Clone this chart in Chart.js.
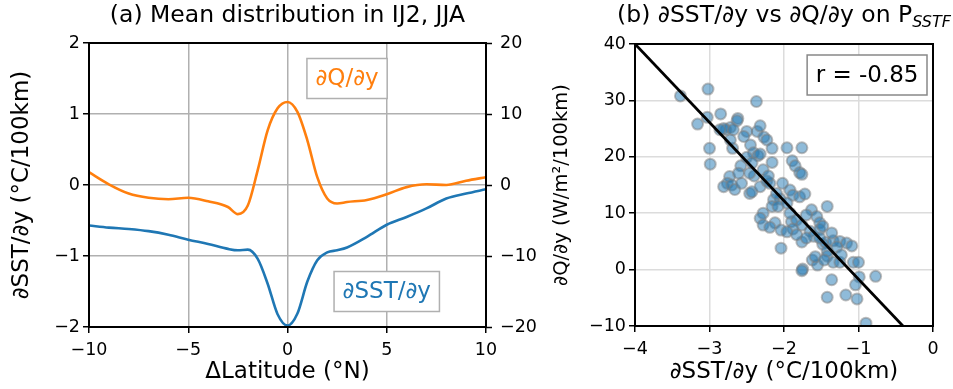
<!DOCTYPE html>
<html>
<head>
<meta charset="utf-8">
<script src="https://cdn.jsdelivr.net/npm/chart.js@4.4.1/dist/chart.umd.min.js"></script>
<style>
  body { margin: 0; background: #fff; width: 953px; height: 389px; overflow: hidden; position: relative; }
  canvas { position: absolute; top: 0; }
  #lineChart { left: 0; }
  #scatterChart { left: 545px; }
</style>
</head>
<body>
<canvas id="lineChart" width="545" height="389"></canvas>
<canvas id="scatterChart" width="408" height="389"></canvas>
<script>
// Panel (a): mean meridional gradients against latitude offset
const latitude = [-10, -9, -8, -7, -6, -5, -4, -3, -2.5, -2, -1.5, -1, -0.5, 0, 0.5, 1, 1.5, 2, 2.5, 3, 4, 5, 6, 7, 8, 9, 10]
const sstGradient = [-0.57, -0.60, -0.62, -0.65, -0.70, -0.77, -0.83, -0.90, -0.92, -0.91, -1.04, -1.39, -1.82, -1.98, -1.81, -1.36, -1.06, -0.95, -0.92, -0.88, -0.73, -0.56, -0.45, -0.33, -0.19, -0.12, -0.06]
const qGradient = [1.8, 0.1, -1.2, -1.8, -2.0, -1.8, -2.3, -3.1, -4.1, -2.9, 2.1, 7.7, 10.8, 11.7, 10.3, 6.3, 1.1, -1.9, -2.6, -2.4, -2.1, -1.3, -0.3, 0.1, 0.0, 0.6, 1.1]

// Panel (b): gradient pairs on the front
const scatterSst = [-3.39, -3.02, -2.37, -3.16, -3.03, -2.85, -3.00, -2.99, -2.62, -2.63, -2.72, -2.78, -2.81, -2.68, -2.50, -2.36, -2.32, -2.27, -2.23, -2.45, -2.69, -2.41, -2.35, -2.32, -2.16, -2.16, -2.58, -2.40, -2.28, -2.50, -2.73, -2.76, -2.81, -2.70, -2.66, -2.57, -2.46, -2.43, -2.32, -2.23, -2.19, -2.02, -1.96, -1.76, -1.89, -1.85, -1.79, -1.76, -1.92, -1.88, -1.79, -1.72, -2.05, -2.14, -2.16, -2.08, -2.28, -2.32, -2.28, -2.12, -2.19, -2.04, -2.04, -1.90, -1.92, -1.83, -1.76, -1.88, -1.96, -1.76, -1.63, -1.42, -1.56, -1.52, -1.65, -1.60, -1.48, -1.44, -1.34, -1.25, -1.16, -1.09, -1.29, -1.42, -1.42, -1.34, -1.25, -1.07, -1.00, -1.62, -1.55, -1.75, -1.76, -1.36, -0.99, -1.04, -0.77, -1.42, -1.17, -1.02, -0.90, -2.10, -1.96, -1.70, -1.52, -1.83, -1.70, -1.48, -1.36, -1.52, -1.58, -1.46, -1.23, -2.61, -2.46, -2.54, -2.72, -2.86, -2.43, -2.21]
const scatterQ = [30.8, 32.0, 29.8, 25.8, 27.0, 27.6, 21.5, 18.7, 26.8, 26.4, 25.2, 24.8, 25.0, 24.8, 24.5, 24.5, 25.5, 23.5, 23.0, 22.1, 21.5, 20.7, 20.2, 20.5, 21.5, 19.0, 18.4, 16.6, 17.7, 19.9, 16.5, 15.3, 14.7, 15.0, 14.2, 15.3, 13.5, 13.8, 14.7, 15.7, 15.3, 15.3, 21.6, 21.6, 19.3, 18.4, 17.2, 16.9, 14.1, 13.2, 12.9, 13.4, 12.5, 12.4, 11.2, 11.2, 10.0, 9.1, 7.9, 8.3, 7.5, 7.0, 3.8, 8.5, 10.0, 8.8, 7.9, 7.2, 6.7, 4.9, 10.6, 11.2, 9.4, 8.3, 6.8, 5.9, 4.5, 4.8, 5.1, 5.0, 4.7, 4.2, 4.0, 3.3, 2.4, 1.3, 1.3, 1.3, 1.3, 1.7, 0.8, 0.1, -0.2, -1.8, -1.3, -2.7, -1.2, -4.9, -4.5, -5.2, -9.5, 13.5, 11.8, 9.7, 7.1, 6.2, 5.6, 7.7, 6.5, 5.6, 2.3, 1.7, 2.6, 17.1, 17.1, 23.6, 23.0, 24.8, 18.9, 16.6]

// Least-squares line end points and its correlation
const fitSst = [-4, 0]
const fitQ = [40.0, -15.6]
const correlation = "-0.85"

const FONT = '"DejaVu Sans", sans-serif'
const BLUE = "#1f77b4"
const ORANGE = "#ff7f0e"

const minusFmt = (v) => (v < 0 ? "\u2212" + Math.abs(v) : String(v))

function tickOpts(pad) {
  return { font: { family: FONT, size: 17.5 }, color: "#000", padding: pad, callback: minusFmt }
}

// Draws the black frame, titles and text boxes
function framePlugin(drawExtras) {
  return {
    id: "frame",
    afterDraw(chart) {
      const { ctx, chartArea: a } = chart
      ctx.save()
      if (drawExtras) drawExtras(chart, ctx, a)
      ctx.strokeStyle = "#000"
      ctx.lineWidth = 2
      ctx.strokeRect(a.left, a.top, a.right - a.left, a.bottom - a.top)
      ctx.restore()
    },
  }
}

function textBox(ctx, text, cx, cy, color, edge) {
  ctx.font = `23px ${FONT}`
  const w = ctx.measureText(text).width
  const bw = w + 17
  const bh = 40
  ctx.fillStyle = "#fff"
  ctx.fillRect(cx - bw / 2, cy - bh / 2, bw, bh)
  ctx.strokeStyle = edge
  ctx.lineWidth = 1.5
  ctx.strokeRect(cx - bw / 2, cy - bh / 2, bw, bh)
  ctx.fillStyle = color
  ctx.textAlign = "center"
  ctx.textBaseline = "middle"
  ctx.fillText(text, cx, cy + 1)
}

function createLineChart() {
  const ctx = document.getElementById("lineChart").getContext("2d")

  new Chart(ctx, {
    type: "line",
    data: {
      datasets: [
        {
          data: latitude.map((x, i) => ({ x: x, y: sstGradient[i] })),
          yAxisID: "y",
          borderColor: BLUE,
          borderWidth: 2.6,
          pointRadius: 0,
          cubicInterpolationMode: "monotone",
        },
        {
          data: latitude.map((x, i) => ({ x: x, y: qGradient[i] })),
          yAxisID: "y2",
          borderColor: ORANGE,
          borderWidth: 2.6,
          pointRadius: 0,
          cubicInterpolationMode: "monotone",
        },
      ],
    },
    options: {
      responsive: false,
      animation: false,
      layout: { padding: { top: 43, left: 0, right: 0, bottom: 0 } },
      plugins: { legend: { display: false }, tooltip: { enabled: false } },
      scales: {
        x: {
          type: "linear",
          min: -10,
          max: 10,
          ticks: { ...tickOpts(7), stepSize: 5 },
          grid: { color: "#b0b0b0", lineWidth: 1.5, tickLength: 6, tickColor: "#000", tickWidth: 1.5 },
          border: { display: false },
          title: { display: true, text: "\u0394Latitude (\u00b0N)", font: { family: FONT, size: 23, lineHeight: 1 }, color: "#000", padding: { bottom: 5 } },
          afterFit: (s) => { s.height = 62 },
        },
        y: {
          position: "left",
          min: -2,
          max: 2,
          ticks: { ...tickOpts(3), stepSize: 1 },
          grid: { color: "#b0b0b0", lineWidth: 1.5, tickLength: 6, tickColor: "#000", tickWidth: 1.5 },
          border: { display: false },
          title: { display: true, text: "\u2202SST/\u2202y (\u00b0C/100km)", font: { family: FONT, size: 23, lineHeight: 1 }, color: "#000", padding: { top: 11 } },
          afterFit: (s) => { s.width = 89 },
        },
        y2: {
          position: "right",
          min: -20,
          max: 20,
          ticks: { ...tickOpts(8), stepSize: 10 },
          grid: { drawOnChartArea: false, tickLength: 6, tickColor: "#000", tickWidth: 1.5 },
          border: { display: false },
          afterFit: (s) => { s.width = 59 },
        },
      },
    },
    plugins: [
      framePlugin((chart, c, a) => {
        const { x, y } = chart.scales
        c.font = `23.5px ${FONT}`
        c.fillStyle = "#000"
        c.textAlign = "center"
        c.textBaseline = "middle"
        c.fillText("(a) Mean distribution in IJ2, JJA", (a.left + a.right) / 2, 16)
        textBox(c, "\u2202Q/\u2202y", x.getPixelForValue(3), y.getPixelForValue(1.5), ORANGE, "#b0b0b0")
        textBox(c, "\u2202SST/\u2202y", x.getPixelForValue(5), y.getPixelForValue(-1.5), BLUE, "#b0b0b0")
      }),
    ],
  })
}

function createScatterChart() {
  const ctx = document.getElementById("scatterChart").getContext("2d")

  new Chart(ctx, {
    type: "scatter",
    data: {
      datasets: [
        {
          type: "line",
          data: fitSst.map((x, i) => ({ x: x, y: fitQ[i] })),
          borderColor: "#000",
          borderWidth: 2.8,
          pointRadius: 0,
          order: 0,
        },
        {
          data: scatterSst.map((x, i) => ({ x: x, y: scatterQ[i] })),
          backgroundColor: "rgba(31,119,180,0.5)",
          borderColor: "rgba(128,128,128,0.5)",
          borderWidth: 2,
          pointRadius: 5.5,
          order: 1,
        },
      ],
    },
    options: {
      responsive: false,
      animation: false,
      layout: { padding: { top: 44, left: 0, right: 20, bottom: 0 } },
      plugins: { legend: { display: false }, tooltip: { enabled: false } },
      scales: {
        x: {
          type: "linear",
          min: -4,
          max: 0,
          ticks: { ...tickOpts(7), stepSize: 1 },
          grid: { color: "#dcdcdc", lineWidth: 1.5, tickLength: 6, tickColor: "#000", tickWidth: 1.5 },
          border: { display: false },
          title: { display: true, text: "\u2202SST/\u2202y (\u00b0C/100km)", font: { family: FONT, size: 23, lineHeight: 1 }, color: "#000", padding: { bottom: 5 } },
          afterFit: (s) => { s.height = 63 },
        },
        y: {
          min: -10,
          max: 40,
          ticks: { ...tickOpts(3), stepSize: 10 },
          grid: { color: "#dcdcdc", lineWidth: 1.5, tickLength: 6, tickColor: "#000", tickWidth: 1.5 },
          border: { display: false },
          title: { display: true, text: "\u2202Q/\u2202y (W/m\u00b2/100km)", font: { family: FONT, size: 19.5, lineHeight: 1 }, color: "#000", padding: { top: 7 } },
          afterFit: (s) => { s.width = 90 },
        },
      },
    },
    plugins: [
      framePlugin((chart, c, a) => {
        // title with subscripted P_SSTF
        const main = "(b) \u2202SST/\u2202y vs \u2202Q/\u2202y on P"
        c.font = `23.5px ${FONT}`
        const w1 = c.measureText(main).width
        c.font = `italic 16px ${FONT}`
        const w2 = c.measureText("SSTF").width
        const x0 = (a.left + a.right) / 2 - (w1 + w2) / 2
        c.fillStyle = "#000"
        c.textAlign = "left"
        c.textBaseline = "middle"
        c.font = `23.5px ${FONT}`
        c.fillText(main, x0, 16)
        c.font = `italic 16px ${FONT}`
        c.fillText("SSTF", x0 + w1, 23)

        c.font = `23px ${FONT}`
        const label = "r = " + correlation
        const bw = c.measureText(label).width + 17
        textBox(c, label, a.right - 6 - bw / 2, a.top + 11 + 20, "#000", "#888888")
      }),
    ],
  })
}

document.addEventListener("DOMContentLoaded", () => {
  createLineChart()
  createScatterChart()
})
</script>
</body>
</html>
